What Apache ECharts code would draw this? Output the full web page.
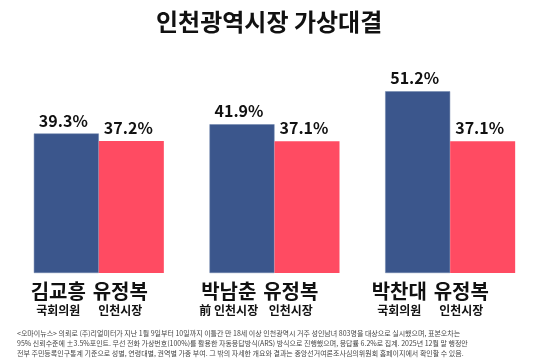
<!DOCTYPE html>
<html><head><meta charset="utf-8">
<script src="https://cdn.jsdelivr.net/npm/echarts@6/dist/echarts.min.js"></script>
<style>html,body{margin:0;padding:0;background:#fff}#c{width:553px;height:362px}</style>
</head><body><div id="c"></div>
<script>
const titleText = '인천광역시장 가상대결';
const groups = ['g1', 'g2', 'g3'];
const challengerNames = ['김교흥', '박남춘', '박찬대'];
const challengerRoles = ['국회의원', '前 인천시장', '국회의원'];
const incumbentNames = ['유정복', '유정복', '유정복'];
const incumbentRoles = ['인천시장', '인천시장', '인천시장'];
const challengerValues = [39.3, 41.9, 51.2];
const incumbentValues = [37.2, 37.1, 37.1];
const footnoteLines = [
  '<오마이뉴스> 의뢰로 (주)리얼미터가 지난 1월 9일부터 10일까지 이틀간 만 18세 이상 인천광역시 거주 성인남녀 803명을 대상으로 실시했으며, 표본오차는',
  '95% 신뢰수준에 ±3.5%포인트. 무선 전화 가상번호(100%)를 활용한 자동응답방식(ARS) 방식으로 진행했으며, 응답률 6.2%로 집계. 2025년 12월 말 행정안',
  '전부 주민등록인구통계 기준으로 성별, 연령대별, 권역별 가중 부여. 그 밖의 자세한 개요와 결과는 중앙선거여론조사심의위원회 홈페이지에서 확인할 수 있음.'
];

const FONT = '"Noto Sans CJK KR", "Noto Sans", sans-serif';
const chart = echarts.init(document.getElementById('c'), null, {renderer: 'canvas'});
const valueLabel = {
  show: true, position: 'top', distance: 5, offset: [-3, 0],
  formatter: p => p.value.toFixed(1) + '%',
  fontFamily: FONT, fontWeight: 'bold', fontSize: 16, color: '#111'
};
chart.setOption({
  animation: false,
  title: [
    {text: titleText, left: 151, top: 5,
     textStyle: {fontFamily: FONT, fontWeight: 'bold', fontSize: 24, color: '#111'}},
    {text: footnoteLines.join('\n'), left: 17, top: 328, padding: 0,
     textStyle: {fontFamily: FONT, fontWeight: 'normal', fontSize: 7, lineHeight: 10, color: '#444'}}
  ],
  grid: [
    {left: 11, width: 527, top: 60, height: 213},
    {left: 4, width: 511.5, top: 60, height: 213}
  ],
  xAxis: [
    {type: 'category', gridIndex: 0, data: groups,
     axisLine: {show: false}, axisTick: {show: false}, axisLabel: {show: false}},
    {type: 'category', gridIndex: 1, data: groups,
     axisLine: {show: false}, axisTick: {show: false},
     axisLabel: {
       margin: 7, interval: 0,
       formatter: (v, i) => '{n|' + challengerNames[i] + '}{n|' + incumbentNames[i] + '}\n{s|' + challengerRoles[i] + '}{s|' + incumbentRoles[i] + '}',
       rich: {
         n: {width: 62, align: 'center', fontFamily: FONT, fontWeight: 'bold', fontSize: 20, lineHeight: 22, color: '#111'},
         s: {width: 62, align: 'center', fontFamily: FONT, fontWeight: 'bold', fontSize: 12, lineHeight: 16, color: '#111'}
       }
     }}
  ],
  yAxis: [
    {type: 'value', gridIndex: 0, min: 0, max: 60, show: false},
    {type: 'value', gridIndex: 1, min: 0, max: 60, show: false}
  ],
  series: [
    {type: 'bar', xAxisIndex: 0, yAxisIndex: 0, data: challengerValues, barWidth: 65, barGap: '0%',
     itemStyle: {color: '#3B568C', borderColor: '#6d82aa', borderWidth: 0.5}, label: valueLabel},
    {type: 'bar', xAxisIndex: 0, yAxisIndex: 0, data: incumbentValues, barWidth: 65, barGap: '0%',
     itemStyle: {color: '#FF4B62'}, label: valueLabel}
  ]
});
</script></body></html>
